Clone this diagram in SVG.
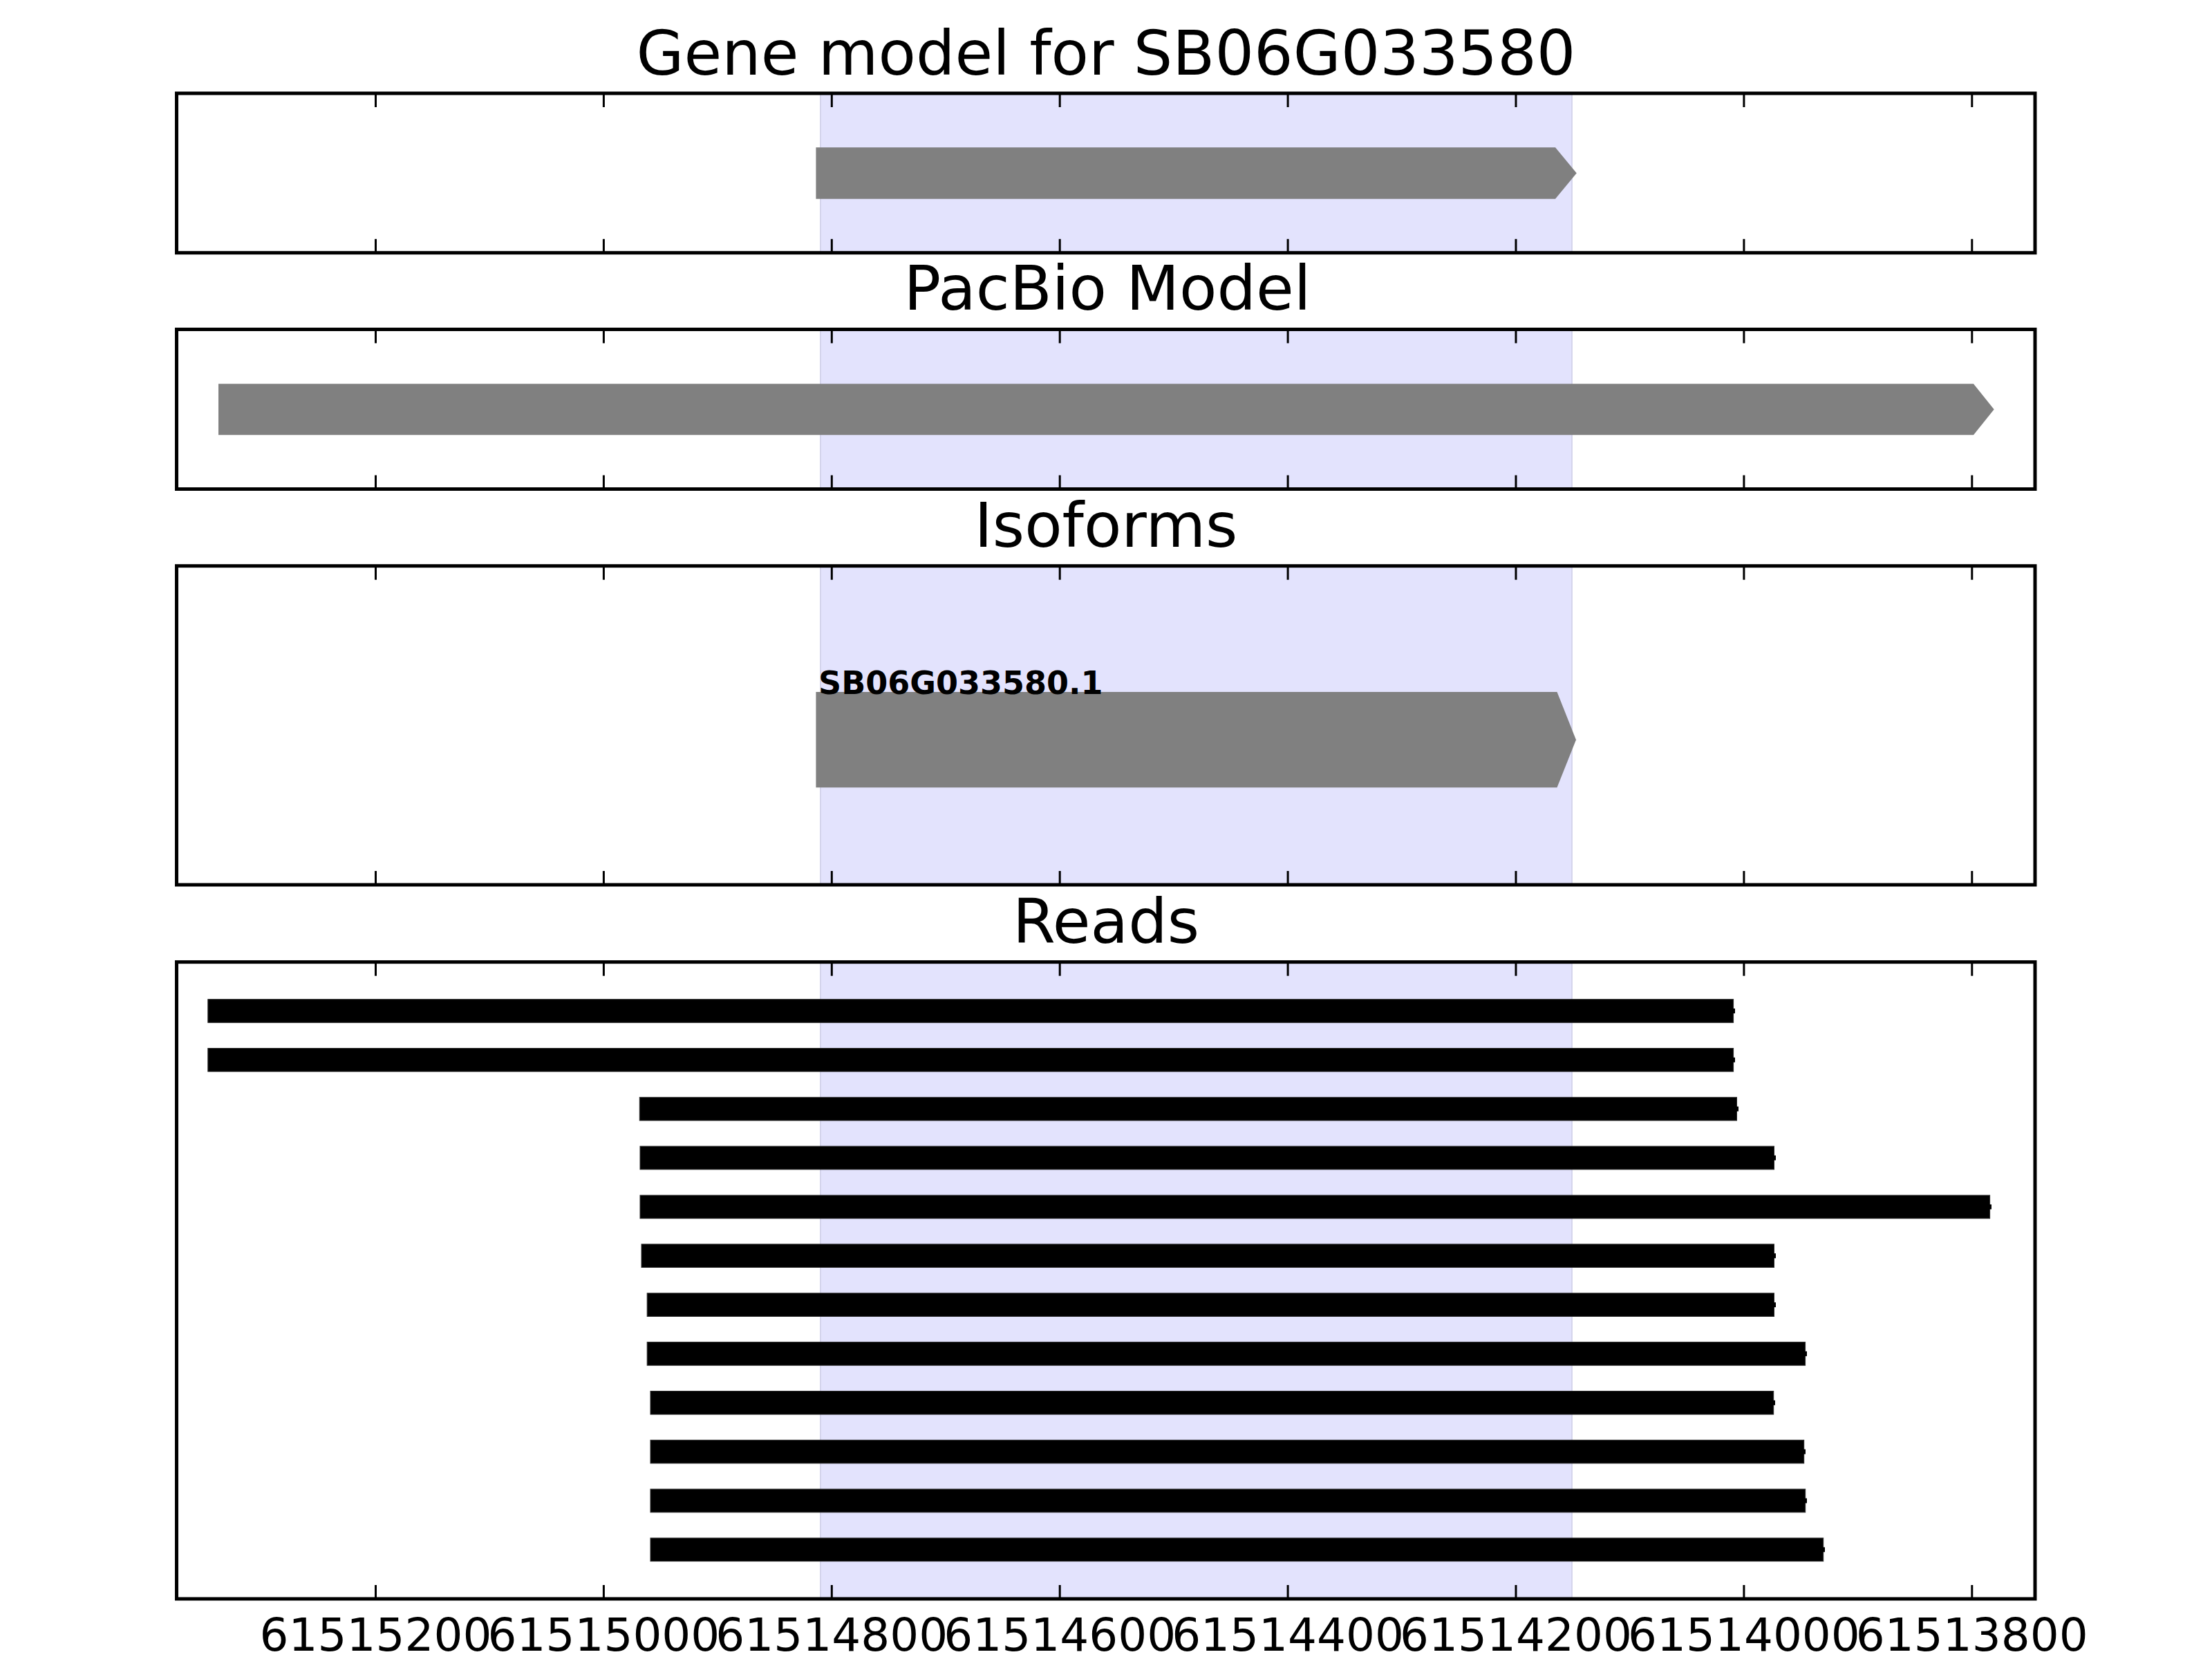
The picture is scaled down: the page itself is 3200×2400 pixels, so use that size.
<svg xmlns="http://www.w3.org/2000/svg" width="3200" height="2400" viewBox="0 0 3200 2400">
<defs>
<style>
.frame{fill:none;stroke:#000;stroke-width:5}
.span{fill:#e3e3fd;stroke:#d4d4ec;stroke-width:2}
.tick{stroke:#000;stroke-width:3}
.title{font-family:"DejaVu Sans","Liberation Sans",sans-serif;font-size:89px;fill:#000;text-anchor:middle}
.tl{font-family:"DejaVu Sans","Liberation Sans",sans-serif;font-size:66px;fill:#000;text-anchor:middle}
.lab{font-family:"DejaVu Sans","Liberation Sans",sans-serif;font-size:46px;font-weight:bold;fill:#000}
.gene{fill:#808080}
.read{fill:#000;stroke:#2a2a2a;stroke-width:1}
</style>
<g id="ticks">
<path class="tick" d="M543.5,0v20M873.4,0v20M1203.3,0v20M1533.2,0v20M1863.1,0v20M2193,0v20M2522.9,0v20M2852.8,0v20"/>
</g>
<g id="ticksb">
<path class="tick" d="M543.5,0v-20M873.4,0v-20M1203.3,0v-20M1533.2,0v-20M1863.1,0v-20M2193,0v-20M2522.9,0v-20M2852.8,0v-20"/>
</g>
</defs>
<rect width="3200" height="2400" fill="#fff"/>

<g id="panel-gene-model">
<text class="title" x="1600" y="108">Gene model for SB06G033580</text>
<rect class="span" x="1187" y="135" width="1087" height="230.7"/>
<polygon class="gene" points="1180.4,213.3 2250,213.3 2280.8,250.5 2250,287.7 1180.4,287.7"/>
<use href="#ticks" y="135"/>
<use href="#ticksb" y="365.7"/>
<rect class="frame" x="255.5" y="135" width="2688.5" height="230.7"/>
</g>

<g id="panel-pacbio">
<text class="title" x="1602" y="448">PacBio Model</text>
<rect class="span" x="1187" y="476.5" width="1087" height="231"/>
<polygon class="gene" points="316,555.2 2855,555.2 2884.7,592.3 2855,629.3 316,629.3"/>
<use href="#ticks" y="476.5"/>
<use href="#ticksb" y="707.5"/>
<rect class="frame" x="255.5" y="476.5" width="2688.5" height="231"/>
</g>

<g id="panel-isoforms">
<text class="title" x="1600" y="791">Isoforms</text>
<rect class="span" x="1187" y="818.7" width="1087" height="461.3"/>
<polygon class="gene" points="1180.4,1001 2252.5,1001 2280,1070.2 2252.5,1139.3 1180.4,1139.3"/>
<text class="lab" x="1184" y="1004">SB06G033580.1</text>
<use href="#ticks" y="818.7"/>
<use href="#ticksb" y="1280"/>
<rect class="frame" x="255.5" y="818.7" width="2688.5" height="461.3"/>
</g>

<g id="panel-reads">
<text class="title" x="1600" y="1364">Reads</text>
<rect class="span" x="1187" y="1391.7" width="1087" height="921.3"/>
<g id="reads">
<rect class="read" x="300.8" y="1445.7" width="2206.8" height="33.6"/><rect x="2507" y="1459" width="3" height="7"/>
<rect class="read" x="300.8" y="1516.5" width="2206.8" height="33.6"/><rect x="2507" y="1529.8" width="3" height="7"/>
<rect class="read" x="925.3" y="1587.4" width="1587.2" height="33.6"/><rect x="2512" y="1600.7" width="3" height="7"/>
<rect class="read" x="926" y="1658.2" width="1640.5" height="33.6"/><rect x="2566" y="1671.5" width="3" height="7"/>
<rect class="read" x="926" y="1729.1" width="1952.6" height="33.6"/><rect x="2878" y="1742.4" width="3" height="7"/>
<rect class="read" x="928" y="1799.9" width="1638.5" height="33.6"/><rect x="2566" y="1813.2" width="3" height="7"/>
<rect class="read" x="936.2" y="1870.8" width="1630.3" height="33.6"/><rect x="2566" y="1884.1" width="3" height="7"/>
<rect class="read" x="936.2" y="1941.6" width="1675.4" height="33.6"/><rect x="2611" y="1954.9" width="3" height="7"/>
<rect class="read" x="941" y="2012.5" width="1624.7" height="33.6"/><rect x="2565" y="2025.8" width="3" height="7"/>
<rect class="read" x="941" y="2083.3" width="1668.7" height="33.6"/><rect x="2609" y="2096.6" width="3" height="7"/>
<rect class="read" x="941" y="2154.2" width="1670.7" height="33.6"/><rect x="2611" y="2167.5" width="3" height="7"/>
<rect class="read" x="941" y="2225" width="1696.7" height="33.6"/><rect x="2637" y="2238.3" width="3" height="7"/>
</g>
<use href="#ticks" y="1391.7"/>
<use href="#ticksb" y="2313"/>
<rect class="frame" x="255.5" y="1391.7" width="2688.5" height="921.3"/>
<g id="xlabels">
<text class="tl" x="543.5" y="2388">61515200</text>
<text class="tl" x="873.4" y="2388">61515000</text>
<text class="tl" x="1203.3" y="2388">61514800</text>
<text class="tl" x="1533.2" y="2388">61514600</text>
<text class="tl" x="1863.1" y="2388">61514400</text>
<text class="tl" x="2193" y="2388">61514200</text>
<text class="tl" x="2522.9" y="2388">61514000</text>
<text class="tl" x="2852.8" y="2388">61513800</text>
</g>
</g>
</svg>
